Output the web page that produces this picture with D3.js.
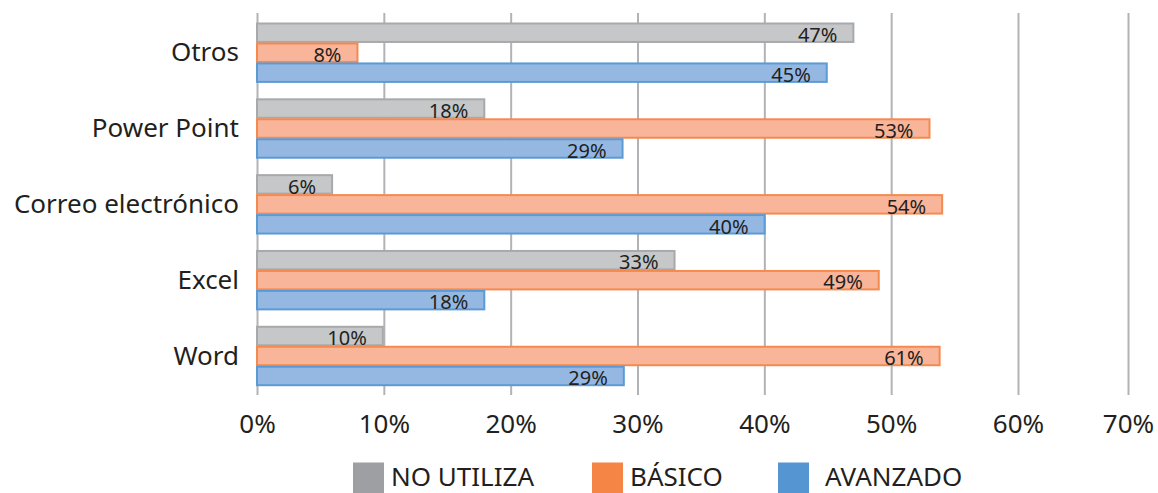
<!DOCTYPE html>
<html>
<head>
<meta charset="utf-8">
<script src="https://cdn.jsdelivr.net/npm/d3@7"></script>
<style>
  html, body { margin: 0; padding: 0; background: #fff; }
  svg { display: block; font-family: "Noto Sans", sans-serif; }
</style>
</head>
<body>
<div id="chart"></div>
<script>
// data, top to bottom
let categories = ["Otros", "Power Point", "Correo electrónico", "Excel", "Word"];
let seriesNames = ["NO UTILIZA", "BÁSICO", "AVANZADO"];
let noUtiliza = [47.1, 18, 6, 33, 10];
let basico = [8, 53.1, 54.1, 49.1, 53.9];
let avanzado = [45, 28.9, 40.1, 18, 29];
// printed labels (the Word / BÁSICO label does not match its bar in the original)
let noUtilizaLabels = ["47%", "18%", "6%", "33%", "10%"];
let basicoLabels = ["8%", "53%", "54%", "49%", "61%"];
let avanzadoLabels = ["45%", "29%", "40%", "18%", "29%"];
let xTicks = [0, 10, 20, 30, 40, 50, 60, 70];

let fills = ["#c5c7c8", "#f9b59a", "#95b8e2"];
let strokes = ["#a7a9ab", "#f58a4f", "#5b9bd5"];
let swatches = ["#9d9fa2", "#f58545", "#5596d2"];
let textColor = "#231f20";

let width = 1158, height = 493;
let svg = d3.select("#chart").append("svg")
    .attr("width", width)
    .attr("height", height);

// the last gridline sits closer than the others in the original
let x = d3.scaleLinear()
    .domain([0, 60, 70])
    .range([257, 1018, 1128]);

let y = d3.scaleBand()
    .domain(categories)
    .range([22.5, 385.7])
    .paddingInner(0.21)
    .paddingOuter(0);

let ySub = d3.scaleBand()
    .domain(seriesNames)
    .range([0, y.bandwidth()]);

let gridTop = 13, gridBottom = 395;

// gridlines + tick labels
let axis = svg.append("g")
    .attr("transform", `translate(0,${gridBottom})`)
    .call(d3.axisBottom(x)
        .tickValues(xTicks)
        .tickSize(-(gridBottom - gridTop))
        .tickFormat(d => d + "%"));
axis.select(".domain").remove();
axis.selectAll(".tick line")
    .attr("stroke", "#b3b3b7")
    .attr("stroke-width", 2);
axis.selectAll(".tick text")
    .attr("y", 38)
    .attr("dy", 0)
    .attr("fill", textColor)
    .attr("font-size", 26)
    .attr("font-family", "Noto Sans");

// category labels
svg.append("g").selectAll("text")
    .data(categories)
    .join("text")
    .attr("x", x(0) - 18)
    .attr("y", d => y(d) + y.bandwidth() / 2 + 9)
    .attr("text-anchor", "end")
    .attr("fill", textColor)
    .attr("font-size", 26)
    .text(d => d);

let seriesValues = [noUtiliza, basico, avanzado];
let seriesLabels = [noUtilizaLabels, basicoLabels, avanzadoLabels];

seriesNames.forEach((name, s) => {
    let g = svg.append("g");
    let rows = categories.map((c, i) => ({ cat: c, value: seriesValues[s][i], label: seriesLabels[s][i] }));

    g.selectAll("rect")
        .data(rows)
        .join("rect")
        .attr("x", x(0))
        .attr("y", d => y(d.cat) + ySub(name) + 1)
        .attr("width", d => x(d.value) - x(0) - 1)
        .attr("height", ySub.bandwidth() - 1.5)
        .attr("fill", fills[s])
        .attr("stroke", strokes[s])
        .attr("stroke-width", 2);

    g.selectAll("text")
        .data(rows)
        .join("text")
        .attr("x", d => x(d.value) - 17)
        .attr("y", d => y(d.cat) + ySub(name) + ySub.bandwidth() - 0.5)
        .attr("text-anchor", "end")
        .attr("fill", textColor)
        .attr("font-size", 20)
        .text(d => d.label);
});

// legend
let legendX = [353, 592, 778];
let legendTextX = [391, 630, 825];
let legend = svg.append("g");
seriesNames.forEach((name, s) => {
    legend.append("rect")
        .attr("x", legendX[s])
        .attr("y", 462.5)
        .attr("width", 31)
        .attr("height", 31)
        .attr("fill", swatches[s]);
    legend.append("text")
        .attr("x", legendTextX[s])
        .attr("y", 486)
        .attr("fill", textColor)
        .attr("font-size", 26)
        .text(name);
});
</script>
</body>
</html>
